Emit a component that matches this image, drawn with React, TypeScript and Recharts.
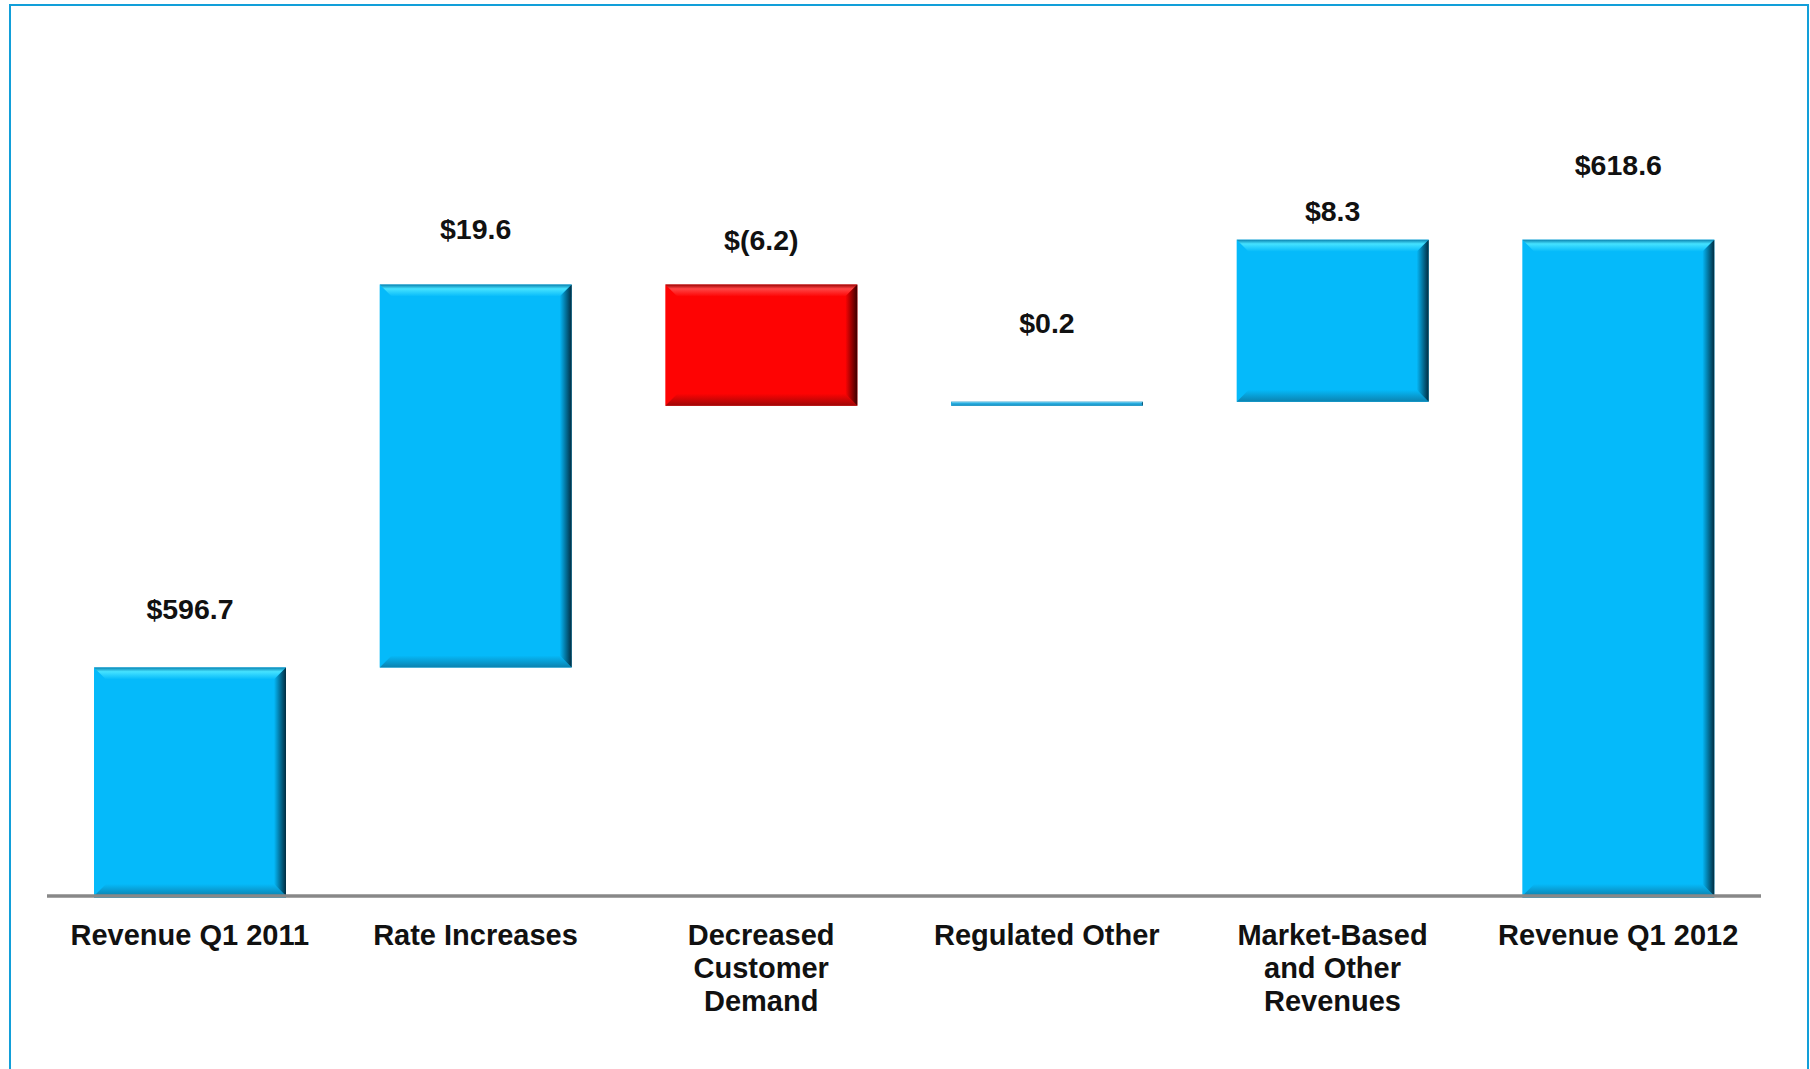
import React from "react";
import { BarChart, Bar, XAxis, YAxis, ReferenceLine, LabelList } from "recharts";

const categories = [
  "Revenue Q1 2011",
  "Rate Increases",
  "Decreased\nCustomer\nDemand",
  "Regulated Other",
  "Market-Based\nand Other\nRevenues",
  "Revenue Q1 2012",
];
const values = [596.7, 19.6, -6.2, 0.2, 8.3, 618.6];
const isTotal = [true, false, false, false, false, true];

const AXIS_MIN = 585;
const AXIS_MAX = 630;
const labelLift = [58, 56, 45, 79, 29, 75];

const FONT = "'Liberation Sans', Arial, Helvetica, sans-serif";

function fmt(v: number) {
  return v < 0 ? `$(${Math.abs(v).toFixed(1)})` : `$${v.toFixed(1)}`;
}

const data = (() => {
  let run = 0;
  return categories.map((c, i) => {
    const v = values[i];
    let low: number, high: number;
    if (isTotal[i]) {
      low = AXIS_MIN;
      high = v;
      run = v;
    } else {
      const s = run;
      run = run + v;
      low = Math.min(s, run);
      high = Math.max(s, run);
    }
    return { name: c, range: [low, high], label: fmt(v), neg: v < 0, idx: i, thin: Math.abs(v) < 1 };
  });
})();

function BevelBar(props: any) {
  const { x, y, width: w, height: h, payload } = props;
  if (!w || h == null) return null;
  const hh = Math.abs(h);
  const yy = h < 0 ? y + h : y;
  const neg = payload?.neg;
  const thin = payload?.thin;
  const pal = neg
    ? { main: "#FE0303", top: "#FF4545", dark: "#3A0000", bottom: "#9E0606" }
    : thin
    ? { main: "#22A9DD", top: "#5CC3EA", dark: "#123E52", bottom: "#1C8DBB" }
    : { main: "#05BAFA", top: "#45E2FF", dark: "#012C40", bottom: "#0B82AF" };
  const b = Math.min(12, hh / 2, w / 2);
  const id = `grad-r-${payload?.idx}`;
  const idB = `grad-b-${payload?.idx}`;
  const idT = `grad-t-${payload?.idx}`;
  return (
    <g>
      <defs>
        <linearGradient id={id} x1="0" y1="0" x2="1" y2="0">
          <stop offset="0%" stopColor={pal.main} />
          <stop offset="100%" stopColor={pal.dark} />
        </linearGradient>
        <linearGradient id={idB} x1="0" y1="0" x2="0" y2="1">
          <stop offset="0%" stopColor={pal.main} />
          <stop offset="100%" stopColor={pal.bottom} />
        </linearGradient>
        <linearGradient id={idT} x1="0" y1="0" x2="0" y2="1">
          <stop offset="0%" stopColor={pal.bottom} />
          <stop offset="35%" stopColor={pal.top} />
          <stop offset="100%" stopColor={pal.main} />
        </linearGradient>
      </defs>
      <rect x={x} y={yy} width={w} height={hh + (payload?.idx === 0 || payload?.idx === 5 ? 2 : 0)} fill={pal.main} />
      <polygon
        points={`${x},${yy} ${x + w},${yy} ${x + w - b},${yy + b} ${x + b},${yy + b}`}
        fill={`url(#${idT})`}
      />
      <polygon
        points={`${x},${yy + hh} ${x + w},${yy + hh} ${x + w - b},${yy + hh - b} ${x + b},${yy + hh - b}`}
        fill={`url(#${idB})`}
      />
      <polygon
        points={`${x + w},${yy} ${x + w},${yy + hh} ${x + w - b},${yy + hh - b} ${x + w - b},${yy + b}`}
        fill={`url(#${id})`}
      />
    </g>
  );
}

function CatTick(props: any) {
  const { x, y, payload } = props;
  const lines = String(payload.value).split("\n");
  return (
    <text
      x={x}
      y={y}
      textAnchor="middle"
      fontFamily={FONT}
      fontSize={29}
      fontWeight="bold"
      fill="#111"
    >
      {lines.map((l, k) => (
        <tspan key={k} x={x} dy={k === 0 ? 41 : 33}>
          {l}
        </tspan>
      ))}
    </text>
  );
}

function ValueLabel(props: any) {
  const vb = props.viewBox || {};
  const x = props.x ?? vb.x;
  const y = props.y ?? vb.y;
  const w = props.width ?? vb.width;
  let i = props.index;
  if (i == null) i = data.findIndex((d) => d.label === props.value);
  return (
    <text
      x={x + w / 2}
      y={y - labelLift[i]}
      textAnchor="middle"
      dominantBaseline="central"
      fontFamily={FONT}
      fontSize={28.5}
      fontWeight="bold"
      fill="#111"
    >
      {props.value}
    </text>
  );
}

export default function App() {
  return (
    <div style={{ position: "absolute", left: 0, top: 0, width: 1810, height: 1069, background: "#fff" }}>
      <div
        style={{
          position: "absolute",
          left: 9,
          top: 4,
          width: 1800,
          height: 1080,
          boxSizing: "border-box",
          borderTop: "2px solid #129FD9",
          borderLeft: "2px solid #129FD9",
          borderRight: "2px solid #129FD9",
        }}
      />
      <div style={{ position: "absolute", left: 0, top: 0 }}>
        <BarChart
          width={1810}
          height={1069}
          data={data}
          margin={{ top: 17, right: 49, bottom: 0, left: 47 }}
        >
          <XAxis
            dataKey="name"
            height={173}
            axisLine={false}
            tickLine={false}
            interval={0}
            tick={<CatTick />}
          />
          <YAxis hide domain={[AXIS_MIN, AXIS_MAX]} />
          <Bar dataKey="range" barSize={192} shape={<BevelBar />} isAnimationActive={false}>
            <LabelList dataKey="label" content={<ValueLabel />} />
          </Bar>
          <ReferenceLine y={AXIS_MIN} stroke="#888888" strokeWidth={3.5} />
        </BarChart>
      </div>
    </div>
  );
}
